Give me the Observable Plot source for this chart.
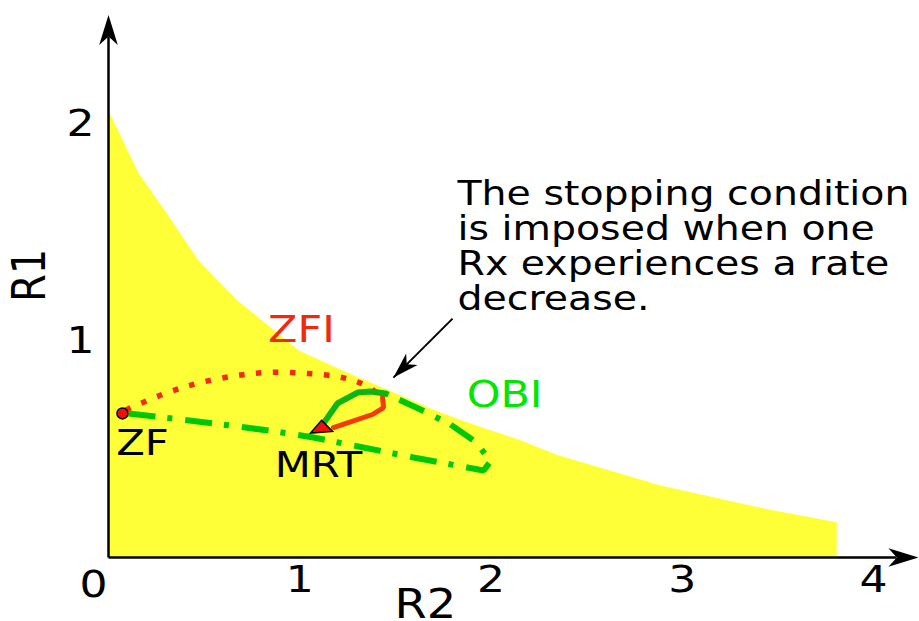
<!DOCTYPE html>
<html>
<head>
<meta charset="utf-8">
<script src="https://cdn.jsdelivr.net/npm/d3@7"></script>
<script src="https://cdn.jsdelivr.net/npm/@observablehq/plot@0.6"></script>
<style>
  html, body { margin: 0; padding: 0; background: #fff; }
  #chart { width: 919px; height: 621px; }
</style>
</head>
<body>
<div id="chart"></div>
<script>
// Achievable rate region boundary (R2, R1)
const regionR2 = [0, 0.16, 0.31, 0.47, 0.68, 1.0, 1.25, 1.49, 1.7, 1.88, 2.15, 2.35, 2.89, 3.45, 3.81];
const regionR1 = [2.06, 1.77, 1.58, 1.37, 1.18, 0.95, 0.85, 0.76, 0.68, 0.62, 0.54, 0.47, 0.33, 0.22, 0.16];

// ZFI trajectory: dotted climb, then solid descent to MRT
const zfiDotR2 = [0.09, 0.308, 0.481, 0.675, 0.847, 1.041, 1.224, 1.344, 1.433];
const zfiDotR1 = [0.68, 0.760, 0.806, 0.839, 0.853, 0.848, 0.829, 0.793, 0.737];
const zfiSolidR2 = [1.433, 1.438, 1.380, 1.176];
const zfiSolidR1 = [0.737, 0.691, 0.659, 0.599];

// OBI trajectory: dash-dot sweep, then solid descent to MRT
const obiDashR2 = [0.105, 0.596, 0.873, 1.072, 1.333, 1.595, 1.961, 1.997, 1.924, 1.788, 1.631, 1.448];
const obiDashR1 = [0.664, 0.613, 0.581, 0.553, 0.507, 0.461, 0.401, 0.442, 0.530, 0.613, 0.682, 0.756];
const obiSolidR2 = [1.448, 1.370, 1.302, 1.197, 1.124];
const obiSolidR1 = [0.756, 0.765, 0.760, 0.710, 0.618];

// Operating points
const zfPoint = [0.073, 0.664];
const mrtPoint = [1.114, 0.604];

// Axis extents
const xAxisTip = 4.235, xAxisEnd = 4.12;
const yAxisTip = 2.50, yAxisEnd = 2.40;

// Tick labels
const xTicks = [1, 2, 3, 4];
const yTicks = [1, 2];
const originLabel = "0";

// Text labels [R2, R1, text]
const pointLabels = [
  [0.178, 0.525, "ZF"],
  [1.098, 0.424, "MRT"]
];
const trajectoryLabels = [
  [1.009, 1.046, "ZFI", "#f02a0a"],
  [2.071, 0.747, "OBI", "#00e600"]
];
const noteText = "The stopping condition\nis imposed when one\nRx experiences a rate\ndecrease.";
const notePos = [1.825, 1.737];
const noteArrowFrom = [1.799, 1.101];
const noteArrowTip = [1.490, 0.829];

// Horizontal widening of the lettering
const textStretch = 1.16;

const zip = (a, b) => a.map((v, i) => [v, b[i]]);

// Notched arrowhead pointing up, tip at the origin; r sets its length
const arrowHead = {
  draw(ctx, size) {
    const L = Math.sqrt(size / Math.PI), W = L * 0.62;
    ctx.moveTo(0, 0);
    ctx.lineTo(W / 2, L);
    ctx.lineTo(0, L * 0.72);
    ctx.lineTo(-W / 2, L);
    ctx.closePath();
  }
};
// Flat marker triangle for the MRT point
const flatTriangle = {
  draw(ctx, size) {
    const r = Math.sqrt(size / Math.PI);
    ctx.moveTo(0, -r * 0.55);
    ctx.lineTo(r, r * 0.45);
    ctx.lineTo(-r, r * 0.6);
    ctx.closePath();
  }
};

const font = "DejaVu Sans";

const chart = Plot.plot({
  width: 919,
  height: 621,
  margin: 0,
  x: {domain: [0, 4], range: [108, 873], axis: null},
  y: {domain: [0, 2], range: [557, 123], axis: null},
  style: {fontFamily: font, background: "#fff", overflow: "visible"},
  marks: [
    Plot.areaY(zip(regionR2, regionR1), {x: "0", y: "1", fill: "#ffff38", curve: "linear"}),

    // axes
    Plot.link([[0, 0, xAxisEnd, 0], [0, 0, 0, yAxisEnd]],
      {x1: "0", y1: "1", x2: "2", y2: "3", stroke: "#000", strokeWidth: 2.5}),
    Plot.dot([[xAxisTip, 0, 90], [0, yAxisTip, 0]],
      {x: "0", y: "1", rotate: "2", r: 30, symbol: arrowHead, fill: "#000", stroke: "none"}),

    // ZFI
    Plot.line(zip(zfiDotR2, zfiDotR1), {x: "0", y: "1", stroke: "#f02a0a", strokeWidth: 5.5,
      strokeDasharray: "5.5,11.5", strokeLinecap: "butt", curve: "catmull-rom"}),
    Plot.line(zip(zfiSolidR2, zfiSolidR1), {x: "0", y: "1", stroke: "#f53a05", strokeWidth: 5,
      strokeLinejoin: "miter"}),

    // OBI
    Plot.line(zip(obiDashR2, obiDashR1), {x: "0", y: "1", stroke: "#00c800", strokeWidth: 6,
      strokeDasharray: "27,12,5,13", strokeLinecap: "butt", strokeLinejoin: "miter"}),
    Plot.line(zip(obiSolidR2, obiSolidR1), {x: "0", y: "1", stroke: "#10b410", strokeWidth: 6,
      strokeLinejoin: "miter"}),

    // points
    Plot.dot([zfPoint], {x: "0", y: "1", r: 5.5, fill: "#f01010", stroke: "#000", strokeWidth: 1.5}),
    Plot.dot([mrtPoint], {x: "0", y: "1", r: 11, symbol: flatTriangle, fill: "#f01010", stroke: "#000", strokeWidth: 1.5}),

    // annotation arrow
    Plot.link([[...noteArrowFrom, ...noteArrowTip]], {x1: "0", y1: "1", x2: "2", y2: "3", stroke: "#000", strokeWidth: 2}),
    Plot.dot([noteArrowTip], {x: "0", y: "1", rotate: 225, r: 26, symbol: arrowHead, fill: "#000", stroke: "none"}),

    // tick labels
    Plot.text(xTicks, {x: d => d, y: 0, text: d => String(d), dy: 22, fontSize: 38, fill: "#000"}),
    Plot.text([originLabel], {x: 0, y: 0, text: d => d, dx: -15, dy: 27, fontSize: 38, fill: "#000"}),
    Plot.text(yTicks, {x: 0, y: d => d, text: d => String(d), dx: -28, fontSize: 38, fill: "#000"}),

    // axis titles
    Plot.text(["R2"], {x: 1.657, y: -0.221, text: d => d, fontSize: 40, fill: "#000"}),
    Plot.text(["R1"], {x: -0.408, y: 1.30, text: d => d, rotate: -90, fontSize: 40, fill: "#000"}),

    // labels
    Plot.text(pointLabels, {x: "0", y: "1", text: "2", fontSize: 36, fill: "#000"}),
    Plot.text(trajectoryLabels, {x: "0", y: "1", text: "2", fill: "3", fontSize: 37}),
    Plot.text([noteText], {x: notePos[0], y: notePos[1], text: d => d, textAnchor: "start",
      lineAnchor: "top", lineHeight: 1.03, fontSize: 34, fill: "#000"})
  ]
});

// Widen every label horizontally on screen, keeping its anchor point fixed.
// Only the coordinate along the stretched direction is moved into the transform;
// em-based baseline offsets stay as attributes.
const isNum = v => v != null && /^-?[\d.]+(e-?\d+)?$/.test(v.trim());
chart.querySelectorAll("text").forEach(t => {
  const tr = t.getAttribute("transform") || "";
  const rotated = /rotate\(\s*-?90/.test(tr);
  const key = rotated ? "y" : "x";
  const v = t.getAttribute(key);
  let shift = "";
  if (isNum(v)) {
    shift = rotated ? `translate(0,${v})` : `translate(${v},0)`;
    t.removeAttribute(key);
  }
  const s = rotated ? `scale(1,${textStretch})` : `scale(${textStretch},1)`;
  t.setAttribute("transform", `${tr} ${shift} ${s}`.trim());
});

document.getElementById("chart").appendChild(chart);
</script>
</body>
</html>
